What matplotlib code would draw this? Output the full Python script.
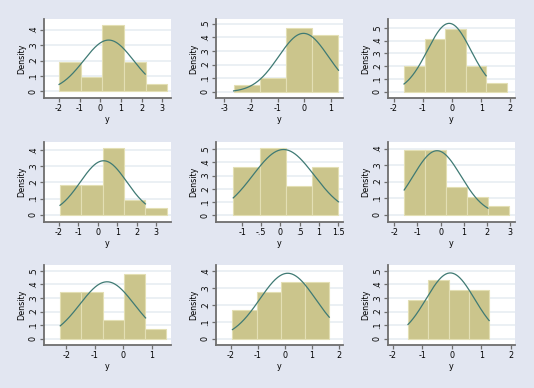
import numpy as np
import matplotlib
matplotlib.use("Agg")
import matplotlib.pyplot as plt

# histogram bins: first edge, bin width, bar heights (density)
bin_start = [-2.0, -2.65, -1.65, -1.93, -1.23, -1.57, -2.21, -1.94, -1.49]
bin_width = [1.05, 0.98, 0.705, 1.09, 0.685, 0.905, 0.74, 0.897, 0.69]
heights = [
    [0.19, 0.095, 0.43, 0.19, 0.048],
    [0.052, 0.103, 0.466, 0.414],
    [0.204, 0.414, 0.487, 0.204, 0.071],
    [0.182, 0.182, 0.414, 0.091, 0.041],
    [0.363, 0.51, 0.218, 0.363],
    [0.392, 0.392, 0.168, 0.105, 0.05],
    [0.343, 0.343, 0.137, 0.475, 0.071],
    [0.169, 0.275, 0.333, 0.333],
    [0.287, 0.431, 0.36, 0.36],
]
# normal overlay: mean, sd, and the x range it spans
norm_mean = [0.4, -0.03, -0.10, 0.3, 0.08, -0.15, -0.57, 0.11, -0.05]
norm_sd = [1.2, 0.93, 0.747, 1.19, 0.8, 1.03, 0.95, 1.033, 0.822]
curve_lo = [-2.0, -2.65, -1.65, -1.93, -1.23, -1.57, -2.21, -1.94, -1.49]
curve_hi = [2.17, 1.28, 1.17, 2.44, 1.51, 2.05, 0.78, 1.65, 1.27]

xticks = [
    [-2, -1, 0, 1, 2, 3],
    [-3, -2, -1, 0, 1],
    [-2, -1, 0, 1, 2],
    [-2, -1, 0, 1, 2, 3],
    [-1, -0.5, 0, 0.5, 1, 1.5],
    [-2, -1, 0, 1, 2, 3],
    [-2, -1, 0, 1],
    [-2, -1, 0, 1, 2],
    [-2, -1, 0, 1, 2],
]
ytop = [0.4, 0.5, 0.5, 0.4, 0.5, 0.4, 0.5, 0.4, 0.5]

xlims = [(-2.73, 3.42), (-3.31, 1.45), (-2.2, 2.16), (-2.75, 3.75), (-1.68, 1.63),
         (-2.27, 3.22), (-2.78, 1.67), (-2.55, 2.16), (-2.17, 2.15)]
ylims = [(-0.043, 0.469), (-0.044, 0.534), (-0.047, 0.568), (-0.046, 0.452), (-0.053, 0.556),
         (-0.044, 0.44), (-0.047, 0.544), (-0.037, 0.435), (-0.047, 0.544)]

W, H = 534, 388
bg = "#E2E6F1"
bar_fill = "#CBC58C"
bar_edge = "#E3DFB4"
line_col = "#3F7A74"
grid_col = "#E9EFF3"
axis_col = "#6E6E6E"

# plot regions in pixels: left, right, top, bottom
cols = [(44, 171), (216, 343), (388, 515)]
rows = [(19, 98), (142, 222), (265, 345)]


def fmt(v):
    if v == 0:
        return "0"
    s = ("%g" % v)
    return s.replace("0.", ".")


fig = plt.figure(figsize=(W / 100, H / 100), dpi=100, facecolor=bg)

for i in range(9):
    l, r = cols[i % 3]
    t, b = rows[i // 3]
    ax = fig.add_axes([l / W, 1 - b / H, (r - l) / W, (b - t) / H])
    ax.set_facecolor("white")

    n = len(heights[i])
    lefts = bin_start[i] + bin_width[i] * np.arange(n)
    ax.bar(lefts, heights[i], width=bin_width[i], align="edge",
           color=bar_fill, edgecolor=bar_edge, linewidth=0.8, zorder=2)

    xs = np.linspace(curve_lo[i], curve_hi[i], 200)
    ys = np.exp(-0.5 * ((xs - norm_mean[i]) / norm_sd[i]) ** 2) / (norm_sd[i] * np.sqrt(2 * np.pi))
    ax.plot(xs, ys, color=line_col, linewidth=0.9, zorder=3)

    yt = np.round(np.arange(0, ytop[i] + 0.001, 0.1), 1)
    ax.set_yticks(yt)
    ax.set_yticklabels([fmt(v) for v in yt], rotation=90, va="center", fontsize=5.8)
    ax.set_xticks(xticks[i])
    ax.set_xticklabels([fmt(v) for v in xticks[i]], fontsize=5.8)
    ax.set_xlim(*xlims[i])
    ax.set_ylim(*ylims[i])
    ax.grid(axis="y", color=grid_col, linewidth=1.3, zorder=0)
    ax.set_axisbelow(True)

    for s in ["top", "right"]:
        ax.spines[s].set_visible(False)
    for s in ["left", "bottom"]:
        ax.spines[s].set_color(axis_col)
        ax.spines[s].set_linewidth(1.3)
    ax.tick_params(length=3, width=0.9, color=axis_col, pad=1.5)
    ax.set_xlabel("y", fontsize=5.8, labelpad=1)
    ax.set_ylabel("Density", fontsize=5.8, labelpad=2)

fig.savefig("out.png", dpi=100, facecolor=bg)
